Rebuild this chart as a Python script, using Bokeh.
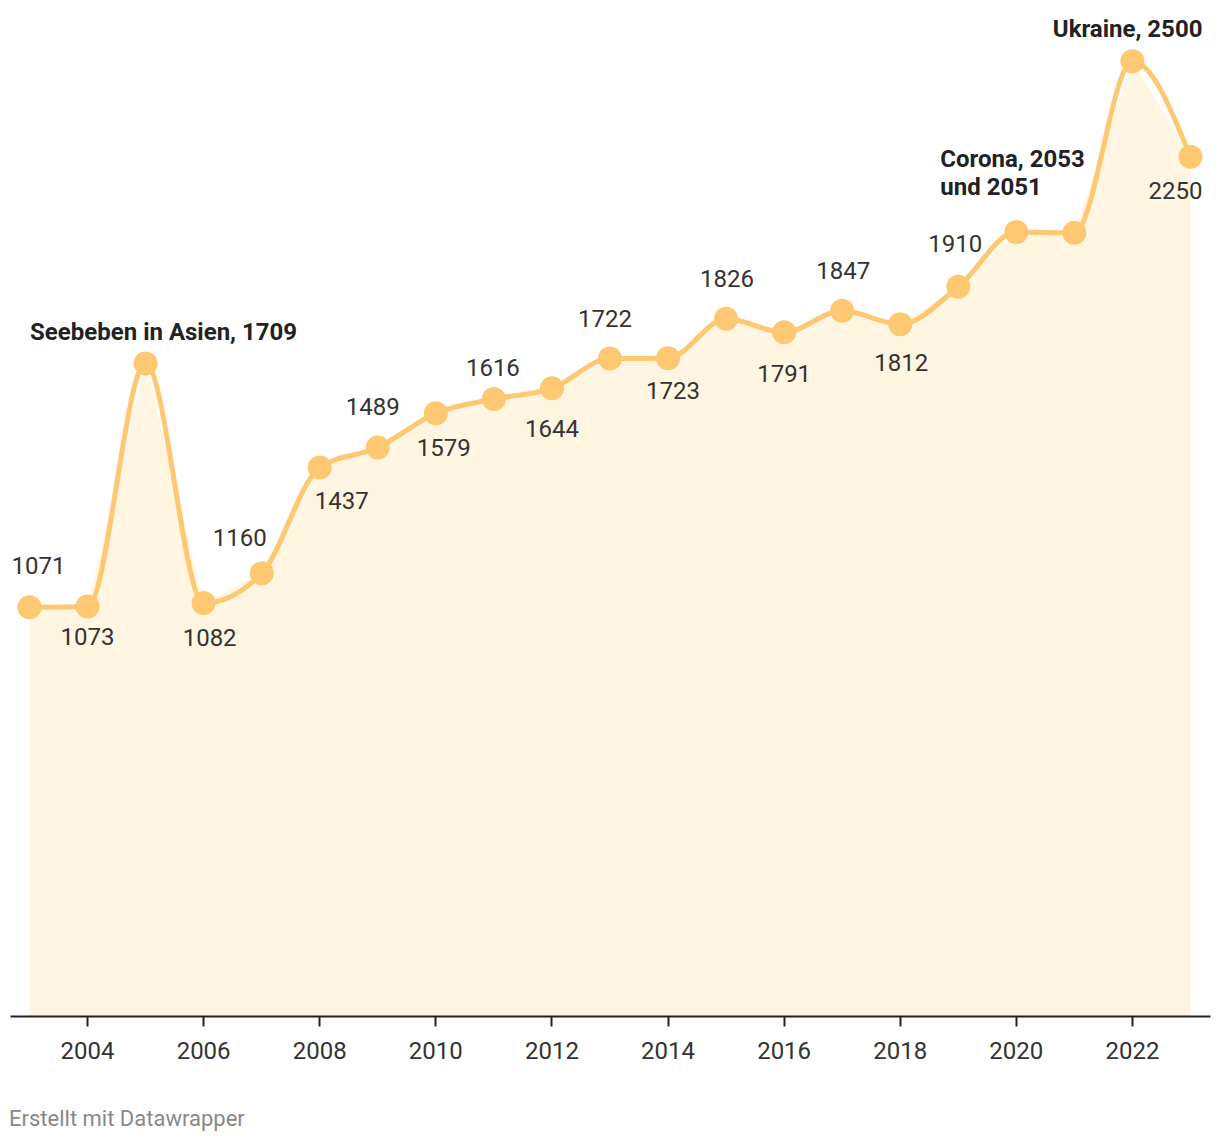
import numpy as np
from bokeh.plotting import figure
from bokeh.layouts import column
from bokeh.models import Range1d, FixedTicker, Div, ColumnDataSource
from bokeh.core.properties import value
from bokeh.embed import file_html
from bokeh.resources import INLINE

# ---- data ----
years = [2003, 2004, 2005, 2006, 2007, 2008, 2009, 2010, 2011, 2012, 2013,
         2014, 2015, 2016, 2017, 2018, 2019, 2020, 2021, 2022, 2023]
values = [1071, 1073, 1709, 1082, 1160, 1437, 1489, 1579, 1616, 1644, 1722,
          1723, 1826, 1791, 1847, 1812, 1910, 2053, 2051, 2500, 2250]
tick_years = [2004, 2006, 2008, 2010, 2012, 2014, 2016, 2018, 2020, 2022]

# ---- label placement (style only, pixel nudges; None = no plain label) ----
label_dx = [9, 0, None, 6, -22, 22, -5, 8, -1, 0, -5,
            5, 1, 0, 1, 1, -3, None, None, None, -15]
label_dy = [-42, 30, None, 34, -36, 33, -41, 34, -32, 40, -40,
            32, -40, 41, -40, 38, -43, None, None, None, 34]

LINE = "#fec872"
FILL = "#fff5e0"
FONT = "Roboto"
X0, X1 = 2002.673, 2023.345
Y0, Y1 = 0, 2633

# ---- monotone-X curve (d3.curveMonotoneX) ----
x = np.array(years, dtype=float)
y = np.array(values, dtype=float)
n = len(x)


def sgn(v):
    return -1.0 if v < 0 else 1.0


t = np.zeros(n)
for i in range(1, n - 1):
    h0 = x[i] - x[i - 1]
    h1 = x[i + 1] - x[i]
    s0 = (y[i] - y[i - 1]) / h0
    s1 = (y[i + 1] - y[i]) / h1
    pp = (s0 * h1 + s1 * h0) / (h0 + h1)
    val = (sgn(s0) + sgn(s1)) * min(abs(s0), abs(s1), 0.5 * abs(pp))
    t[i] = val if val else 0.0
h = x[1] - x[0]
t[0] = (3 * (y[1] - y[0]) / h - t[1]) / 2
h = x[-1] - x[-2]
t[-1] = (3 * (y[-1] - y[-2]) / h - t[-2]) / 2

dx = (x[1:] - x[:-1]) / 3
bez = ColumnDataSource(dict(
    x0=x[:-1], y0=y[:-1], x1=x[1:], y1=y[1:],
    cx0=x[:-1] + dx, cy0=y[:-1] + dx * t[:-1],
    cx1=x[1:] - dx, cy1=y[1:] - dx * t[1:],
))

p = figure(width=1220, height=1076,
           x_range=Range1d(X0, X1), y_range=Range1d(Y0, Y1),
           output_backend="svg", toolbar_location=None,
           y_axis_location=None,
           min_border_left=10, min_border_right=10, min_border_top=10,
           min_border_bottom=60)
p.outline_line_color = None
p.xgrid.grid_line_color = None
p.ygrid.grid_line_color = None
p.background_fill_color = "white"
p.border_fill_color = "white"

# area (linear) under the line
p.varea(x=years, y1=[0] * n, y2=values, fill_color=FILL, fill_alpha=1.0)

# smooth line
p.bezier(x0="x0", y0="y0", x1="x1", y1="y1", cx0="cx0", cy0="cy0",
         cx1="cx1", cy1="cy1", source=bez, line_color=LINE, line_width=5,
         line_cap="round")

# points
p.scatter(years, values, size=24, fill_color=LINE, line_color=None)

# value labels
lx, ly, lt, lxo, lyo = [], [], [], [], []
for yr, v, ddx, ddy in zip(years, values, label_dx, label_dy):
    if ddy is None:
        continue
    lx.append(yr); ly.append(v); lt.append(str(v))
    lxo.append(ddx); lyo.append(ddy)
labels = ColumnDataSource(dict(x=lx, y=ly, t=lt, xo=lxo, yo=lyo))
p.text(x="x", y="y", text="t", source=labels, x_offset="xo", y_offset="yo",
       text_align="center", text_baseline="middle", text_font=value(FONT),
       text_font_size="24px", text_color="#333333")

# annotations
ann_style = dict(text_font=value(FONT), text_font_size="24px",
                 text_font_style="bold", text_color="#222222",
                 text_baseline="middle")
p.text(x=[years[2]], y=[values[2]], text=["Seebeben in Asien, 1709"],
       x_offset=18, y_offset=-32, text_align="center", **ann_style)
p.text(x=[years[17]], y=[values[17]], text=["Corona, 2053"],
       x_offset=-76, y_offset=-73, text_align="left", **ann_style)
p.text(x=[years[17]], y=[values[17]], text=["und 2051"],
       x_offset=-76, y_offset=-45, text_align="left", **ann_style)
p.text(x=[years[19]], y=[values[19]], text=["Ukraine, 2500"],
       x_offset=70, y_offset=-32, text_align="right", **ann_style)

# x axis
xa = p.xaxis[0]
xa.ticker = FixedTicker(ticks=tick_years)
xa.axis_line_color = "#222222"
xa.axis_line_width = 2
xa.major_tick_line_color = "#222222"
xa.major_tick_line_width = 2
xa.major_tick_out = 10
xa.major_tick_in = 0
xa.minor_tick_line_color = None
xa.major_label_standoff = 15
xa.major_label_text_font = FONT
xa.major_label_text_font_size = "24px"
xa.major_label_text_color = "#333333"

credit = Div(text="Erstellt mit Datawrapper", width=600, height=40,
             margin=(30, 0, 0, 9),
             styles={"font-family": "Roboto", "font-size": "22px",
                     "color": "#888888", "line-height": "26px"})

layout = column(p, credit, spacing=0)
open("out.html", "w").write(file_html(layout, INLINE))
